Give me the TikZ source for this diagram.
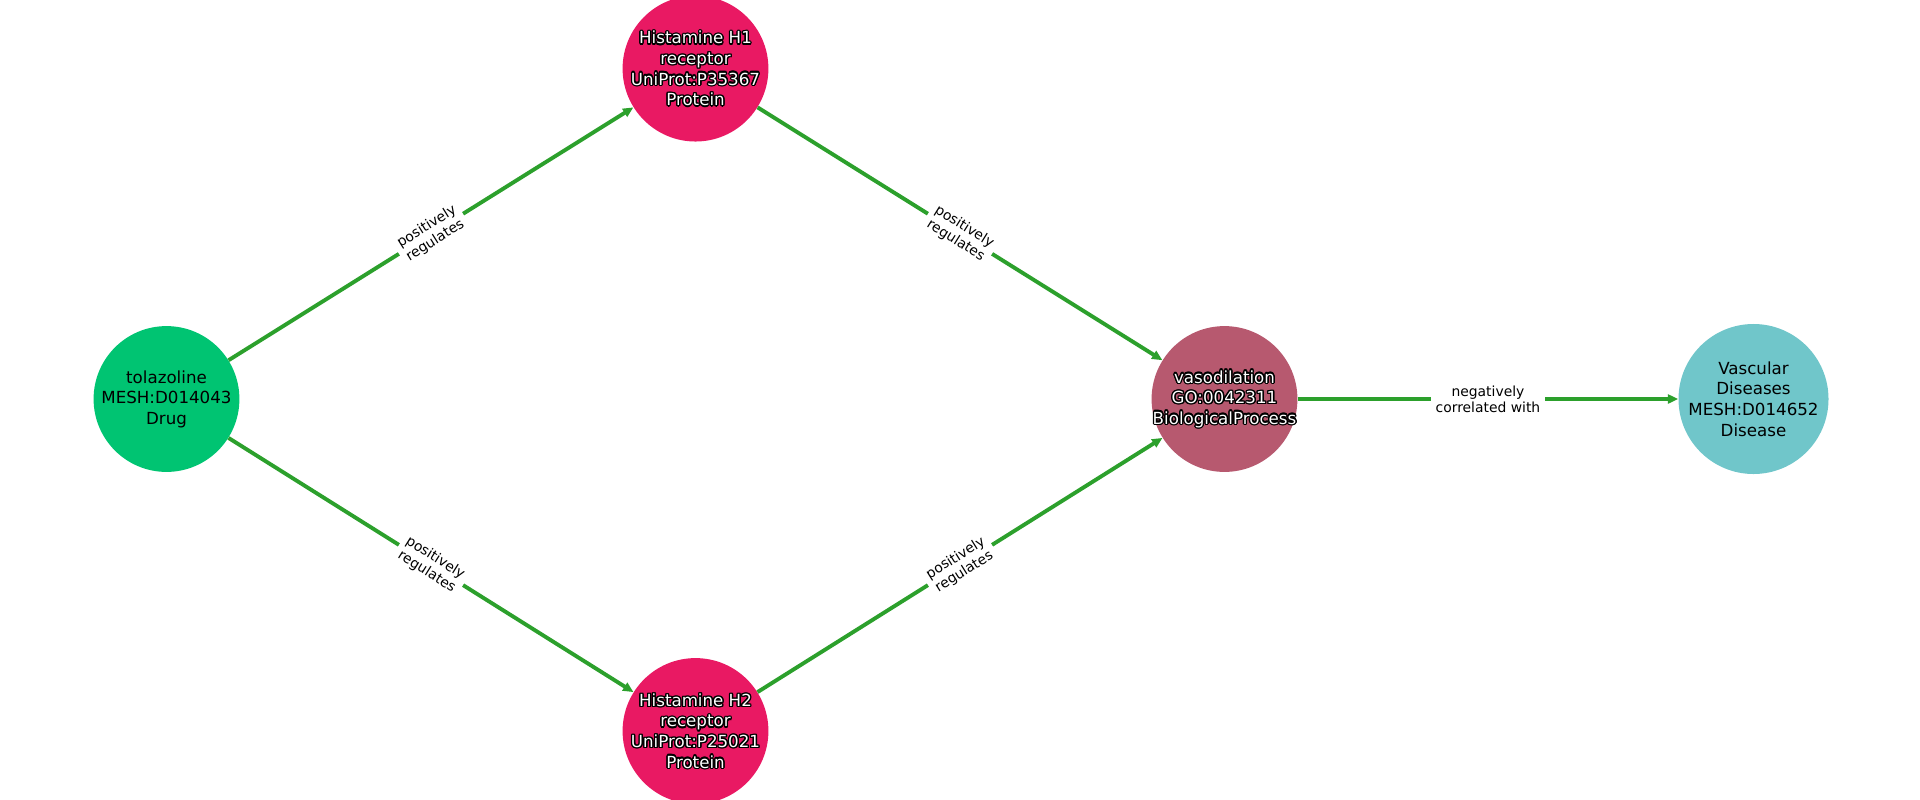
\documentclass[tikz,border=0pt]{standalone}
\usepackage{fontspec}
\setmainfont{DejaVu Sans}
\usetikzlibrary{arrows.meta}
\definecolor{drugc}{RGB}{0,196,114}
\definecolor{protc}{RGB}{233,25,99}
\definecolor{procc}{RGB}{183,89,111}
\definecolor{disc}{RGB}{112,198,202}
\definecolor{edgec}{RGB}{44,160,44}
\tikzset{
  ent/.style={circle, inner sep=0pt, minimum size=105pt, draw=none, align=center,
    font=\fontsize{12pt}{14.8pt}\selectfont},
  txt/.style={inner sep=0pt, align=center, font=\fontsize{12pt}{14.8pt}\selectfont},
  edge/.style={draw=edgec, line width=2.8pt, -{Triangle[length=7.5pt,width=6.5pt]}},
  elab/.style={fill=white, inner sep=3.2pt, align=center, sloped, text=black,
    font=\fontsize{10pt}{11.6pt}\selectfont}
}
\newcommand{\haloname}[3]{%
  \foreach \a in {0,30,...,359} {
    \node[txt, text=black] at ([shift={(\a:1.0pt)}]#1) {#3};
  }
  \node[txt, text=white] (#2) at (#1) {#3};
}
\begin{document}
\begin{tikzpicture}[x=0.72pt, y=-0.72pt]
\useasboundingbox (0,0) rectangle (1920,800);
\node[ent, fill=drugc] (tol) at (166.5,399) {tolazoline\\MESH:D014043\\Drug};
\node[ent, fill=protc] (h1) at (695.5,68.6) {};
\node[ent, fill=protc] (h2) at (695.5,731) {};
\node[ent, fill=procc] (vaso) at (1224.5,399) {};
\node[ent, fill=disc] (vasc) at (1753.5,399) {Vascular\\Diseases\\MESH:D014652\\Disease};
\haloname{h1}{h1t}{Histamine H1\\receptor\\UniProt:P35367\\Protein}
\haloname{h2}{h2t}{Histamine H2\\receptor\\UniProt:P25021\\Protein}
\haloname{vaso}{vasot}{vasodilation\\GO:0042311\\BiologicalProcess}
\draw[edge] (tol) -- node[elab] {positively\\regulates} (h1);
\draw[edge] (tol) -- node[elab] {positively\\regulates} (h2);
\draw[edge] (h1) -- node[elab] {positively\\regulates} (vaso);
\draw[edge] (h2) -- node[elab] {positively\\regulates} (vaso);
\draw[edge] (vaso) -- node[elab] {negatively\\correlated with} (vasc);
\end{tikzpicture}
\end{document}
